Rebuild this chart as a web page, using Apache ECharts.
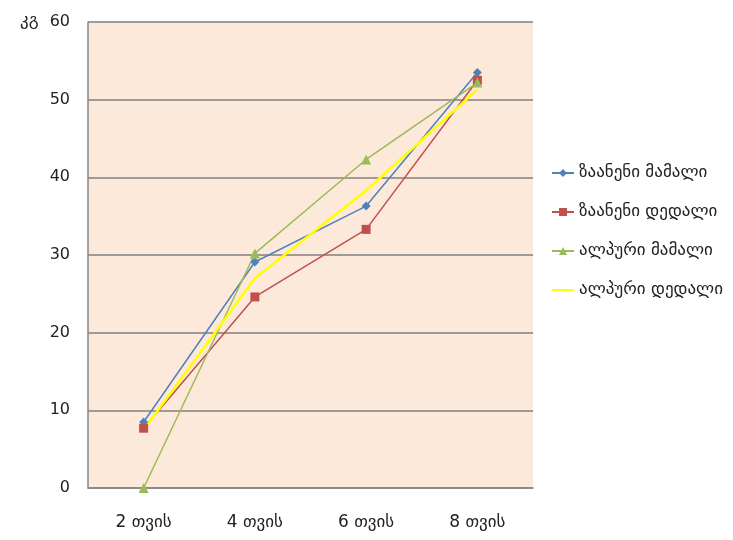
<!DOCTYPE html>
<html><head><meta charset="utf-8">
<script src="https://cdn.jsdelivr.net/npm/echarts@6/dist/echarts.min.js"></script>
<style>html,body{margin:0;padding:0;background:#fff}#c{width:733px;height:540px}</style>
</head><body><div id="c"></div>
<script>
const categories = ['2 თვის', '4 თვის', '6 თვის', '8 თვის'];
const seriesNames = ['ზაანენი მამალი', 'ზაანენი დედალი', 'ალპური მამალი', 'ალპური დედალი'];
const zaanenMale = [8.5, 29.1, 36.3, 53.5];
const zaanenFemale = [7.7, 24.6, 33.3, 52.5];
const alpineMale = [0, 30.2, 42.3, 52.2];
const alpineFemale = [7.5, 27.0, 38.3, 51.3];
const yTicks = [0, 10, 20, 30, 40, 50, 60];
const yUnit = 'კგ';

const colors = ['#4F81BD', '#C0504D', '#9BBB59', '#FFFF00'];
const symbols = ['diamond', 'rect', 'triangle', 'none'];
const sizes = [9, 9, 10, 0];
const widths = [1.5, 1.5, 1.5, 2.5];
const data = [zaanenMale, zaanenFemale, alpineMale, alpineFemale];
const font = 'DejaVu Sans';

const chart = echarts.init(document.getElementById('c'));
chart.setOption({
  animation: false,
  textStyle: {fontFamily: font},
  grid: {left: 88, right: 200, top: 22, bottom: 52, show: true, backgroundColor: '#FDE9D9', borderWidth: 0, outerBoundsMode: 'none', containLabel: false},
  graphic: [{type: 'text', left: 20, top: 12, style: {text: yUnit, fontSize: 17, fontFamily: font, fill: '#222'}}],
  legend: {
    orient: 'vertical', left: 546, top: 157, itemGap: 17, itemWidth: 22, itemHeight: 10,
    textStyle: {fontFamily: font, fontSize: 17, color: '#222', lineHeight: 22},
    data: seriesNames.map((n, i) => ({name: n, icon: symbols[i] === 'none' ? 'path://M0,4 L22,4 L22,6 L0,6 Z' : undefined}))
  },
  xAxis: {
    type: 'category', data: categories, boundaryGap: true,
    axisLine: {lineStyle: {color: '#868686', width: 1.5}},
    axisTick: {show: false},
    axisLabel: {fontSize: 17, color: '#222', margin: 26, fontFamily: font}
  },
  yAxis: {
    type: 'value', min: yTicks[0], max: yTicks[yTicks.length - 1], interval: 10,
    axisLine: {show: true, lineStyle: {color: '#868686', width: 1.5}},
    axisTick: {show: false},
    splitLine: {lineStyle: {color: '#7F7F7F', width: 1.5}},
    axisLabel: {fontSize: 16, color: '#222', margin: 18, fontFamily: font}
  },
  series: seriesNames.map((n, i) => ({
    name: n, type: 'line', data: data[i], symbol: symbols[i], symbolSize: sizes[i],
    itemStyle: {color: colors[i]}, lineStyle: {color: colors[i], width: widths[i]}
  }))
});
</script></body></html>
